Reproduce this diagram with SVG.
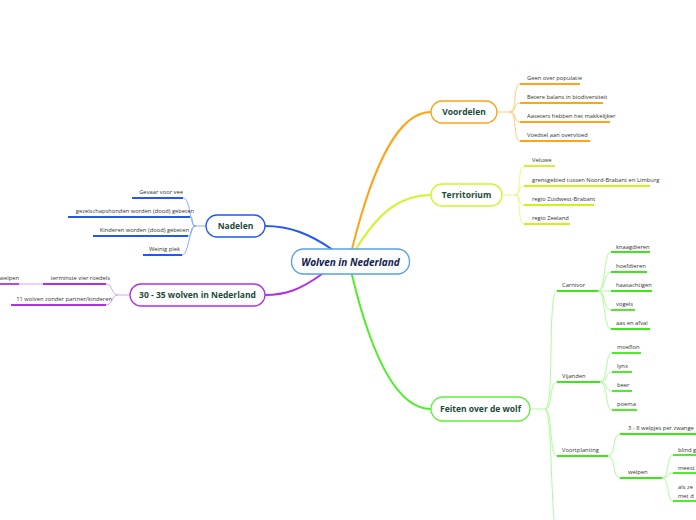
<svg xmlns="http://www.w3.org/2000/svg" width="696" height="520" viewBox="0 0 696 520">
<style>
text{font-family:"Open Sans","Noto Sans","DejaVu Sans",sans-serif}
.node{fill:#fff;stroke-width:1.3}
.nt{font-size:8.5px;font-weight:bold;fill:#1d4a3a;text-anchor:middle}
.lt{font-size:5.8px;fill:#333}
.end{text-anchor:end}
.c{fill:none;stroke-width:0.9}
.u{fill:none;stroke-width:1.8}
.main{fill:none;stroke-linecap:round}
</style>
<rect width="696" height="520" fill="#fff"/>

<g id="connectors">
  <!-- main branches -->
  <path class="main" d="M352,249 C373,165 398,112 431,112" stroke="#ffa31a" stroke-width="2"/>
  <path class="main" d="M356,249 C380,210 402,195 431,195" stroke="#d0f52a" stroke-width="2"/>
  <path class="main" d="M333,250 C310,234 290,226 265,226" stroke="#2356f6" stroke-width="2"/>
  <path class="main" d="M322,274 C300,290 285,295 265,295" stroke="#b030e8" stroke-width="2"/>
  <path class="main" d="M352,275 C370,350 395,409 431,409" stroke="#4fee2a" stroke-width="2"/>

  <!-- Voordelen leaves -->
  <g stroke="#ffc56a">
    <path class="c" d="M497,112 H510"/>
    <path class="c" d="M510,112 C517,112 513,84 520,84"/>
    <path class="c" d="M510,112 C517,112 513,103 520,103"/>
    <path class="c" d="M510,112 C517,112 513,122 520,122"/>
    <path class="c" d="M510,112 C517,112 513,141 520,141"/>
  </g>
  <!-- Territorium leaves -->
  <g stroke="#e2f97a">
    <path class="c" d="M502,195 H515"/>
    <path class="c" d="M515,195 C522,195 517,166 524,166"/>
    <path class="c" d="M515,195 C522,195 517,186 524,186"/>
    <path class="c" d="M515,195 C522,195 517,205 524,205"/>
    <path class="c" d="M515,195 C522,195 517,224 524,224"/>
  </g>
  <!-- Nadelen leaves -->
  <g stroke="#7fa0ff">
    <path class="c" d="M206,226 H196"/>
    <path class="c" d="M196,226 C189,226 191,198 183,198"/>
    <path class="c" d="M196,226 C189,226 195,217 190,217"/>
    <path class="c" d="M196,226 C189,226 193,236 188,236"/>
    <path class="c" d="M196,226 C189,226 189,255 182,255"/>
  </g>
  <!-- 30-35 leaves -->
  <g stroke="#d994f5">
    <path class="c" d="M130,295 H118"/>
    <path class="c" d="M118,295 C111,295 113,284 106,284"/>
    <path class="c" d="M118,295 C111,295 113,305 106,305"/>
    <path class="c" d="M43,284 H19"/>
  </g>
  <!-- Feiten trunk -->
  <g stroke="#a4fb8e">
    <path class="c" d="M530,409 H545"/>
    <path class="c" d="M545,409 C555,409 547,291 557,291"/>
    <path class="c" d="M545,409 C553,409 549,382 557,382"/>
    <path class="c" d="M545,409 C553,409 549,456 557,456"/>
    <path class="c" d="M545,409 C553,409 550,535 558,535"/>
    <!-- Carnivor -->
    <path class="c" d="M598,291 C606,291 603,252 611,252"/>
    <path class="c" d="M598,291 C606,291 603,272 611,272"/>
    <path class="c" d="M598,291 H611"/>
    <path class="c" d="M598,291 C606,291 603,310 611,310"/>
    <path class="c" d="M598,291 C606,291 603,329 611,329"/>
    <!-- Vijanden -->
    <path class="c" d="M600,382 C608,382 605,353 612,353"/>
    <path class="c" d="M600,382 C608,382 605,372 612,372"/>
    <path class="c" d="M600,382 C608,382 605,391 612,391"/>
    <path class="c" d="M600,382 C608,382 605,410 612,410"/>
    <!-- Voortplanting -->
    <path class="c" d="M608,456 C616,456 612,434 620,434"/>
    <path class="c" d="M608,456 C616,456 612,478 620,478"/>
    <!-- welpen -->
    <path class="c" d="M662,478 C670,478 666,455 673,455"/>
    <path class="c" d="M662,478 C670,478 666,473 673,473"/>
    <path class="c" d="M662,478 C670,478 666,501 673,501"/>
  </g>
</g>

<g id="center">
  <rect x="291.5" y="249" width="118" height="25" rx="12" fill="#fbfdff" stroke="#5aa0e0" stroke-width="1.3"/>
  <text x="350.5" y="265.5" font-size="10" font-weight="bold" font-style="italic" fill="#13204f" text-anchor="middle">Wolven in Nederland</text>
</g>

<g id="voordelen">
  <rect class="node" x="431" y="101" width="66" height="22" rx="11" stroke="#ffa31a"/>
  <text class="nt" x="464" y="115">Voordelen</text>
</g>
<g id="voordelen-leaves" stroke="#ffa31a">
  <path class="u" d="M520,84 H580"/><text class="lt" x="527" y="79.5" stroke="none">Geen over populatie</text>
  <path class="u" d="M520,103 H603"/><text class="lt" x="527" y="98.5" stroke="none">Betere balans in biodiversiteit</text>
  <path class="u" d="M520,122 H610"/><text class="lt" x="527" y="117.5" stroke="none">Aaseters hebben het makkelijker</text>
  <path class="u" d="M520,141 H590"/><text class="lt" x="527" y="136.5" stroke="none">Voedsel aan overvloed</text>
</g>

<g id="territorium">
  <rect class="node" x="431" y="184" width="71" height="22" rx="11" stroke="#d0f52a"/>
  <text class="nt" x="466.5" y="198">Territorium</text>
</g>
<g id="territorium-leaves" stroke="#cdf215">
  <path class="u" d="M524,166 H555"/><text class="lt" x="532" y="162" stroke="none">Veluwe</text>
  <path class="u" d="M524,186 H650"/><text class="lt" x="532" y="182" stroke="none">grensgebied tussen Noord-Brabant en Limburg</text>
  <path class="u" d="M524,205 H594"/><text class="lt" x="532" y="201" stroke="none">regio Zuidwest-Brabant</text>
  <path class="u" d="M524,224 H570"/><text class="lt" x="532" y="220" stroke="none">regio Zeeland</text>
</g>

<g id="nadelen">
  <rect class="node" x="206" y="215" width="59" height="22" rx="11" stroke="#2356f6"/>
  <text class="nt" x="235.5" y="229">Nadelen</text>
</g>
<g id="nadelen-leaves" stroke="#2356f6">
  <path class="u" d="M132,198 H183"/><text class="lt end" x="183" y="194" stroke="none">Gevaar voor vee</text>
  <path class="u" d="M68,217 H190"/><text class="lt end" x="194" y="213" stroke="none">gezelschapshonden worden (dood) gebeten</text>
  <path class="u" d="M93,236 H188"/><text class="lt end" x="189" y="232" stroke="none">Kinderen worden (dood) gebeten</text>
  <path class="u" d="M143,255 H182"/><text class="lt end" x="180" y="251" stroke="none">Weinig plek</text>
</g>

<g id="wolven-aantal">
  <rect class="node" x="130" y="284" width="135" height="22" rx="11" stroke="#b030e8"/>
  <text class="nt" x="197.5" y="298">30 - 35 wolven in Nederland</text>
</g>
<g id="wolven-aantal-leaves" stroke="#b030e8">
  <path class="u" d="M43,284 H106"/><text class="lt end" x="110" y="279.5" stroke="none">terminste vier roedels</text>
  <path class="u" d="M11,305 H106"/><text class="lt end" x="112" y="301" stroke="none">11 wolven zonder partner/kinderen</text>
  <path class="u" d="M-2,284 H19"/><text class="lt end" x="19" y="279.5" stroke="none">welpen</text>
</g>

<g id="feiten">
  <rect class="node" x="431" y="397" width="99" height="24" rx="12" stroke="#5cee3a"/>
  <text class="nt" x="480.5" y="412">Feiten over de wolf</text>
</g>
<g id="feiten-sub" stroke="#3ee818">
  <path class="u" d="M557,291 H598"/><text class="lt" x="562" y="287" stroke="none">Carnivor</text>
  <path class="u" d="M557,382 H600"/><text class="lt" x="562" y="378" stroke="none">Vijanden</text>
  <path class="u" d="M557,456 H608"/><text class="lt" x="562" y="452" stroke="none">Voortplanting</text>
</g>
<g id="carnivor-leaves" stroke="#3ee818">
  <path class="u" d="M611,252 H650"/><text class="lt" x="616" y="248.5" stroke="none">knaagdieren</text>
  <path class="u" d="M611,272 H647"/><text class="lt" x="616" y="267.5" stroke="none">hoefdieren</text>
  <path class="u" d="M611,291 H652"/><text class="lt" x="616" y="286.5" stroke="none">haasachtigen</text>
  <path class="u" d="M611,310 H635"/><text class="lt" x="616" y="305.5" stroke="none">vogels</text>
  <path class="u" d="M611,329 H650"/><text class="lt" x="616" y="324.5" stroke="none">aas en afval</text>
</g>
<g id="vijanden-leaves" stroke="#3ee818">
  <path class="u" d="M612,353 H641"/><text class="lt" x="617" y="349" stroke="none">moeflon</text>
  <path class="u" d="M612,372 H632"/><text class="lt" x="617" y="368" stroke="none">lynx</text>
  <path class="u" d="M612,391 H632"/><text class="lt" x="617" y="387" stroke="none">beer</text>
  <path class="u" d="M612,410 H637"/><text class="lt" x="617" y="406" stroke="none">poema</text>
</g>
<g id="voortplanting-leaves" stroke="#3ee818">
  <path class="u" d="M620,434 H698"/><text class="lt" x="628" y="430" stroke="none">3 - 8 welpjes per zwange</text>
  <path class="u" d="M620,478 H662"/><text class="lt" x="628" y="474" stroke="none">welpen</text>
</g>
<g id="welpen-leaves" stroke="#3ee818">
  <path class="u" d="M673,455 H698"/><text class="lt" x="678" y="452" stroke="none">blind g</text>
  <path class="u" d="M673,473 H698"/><text class="lt" x="678" y="470" stroke="none">meest</text>
  <path class="u" d="M673,501 H698"/><text class="lt" x="678" y="489" stroke="none">als ze</text><text class="lt" x="678" y="498" stroke="none">met d</text>
</g>
</svg>
